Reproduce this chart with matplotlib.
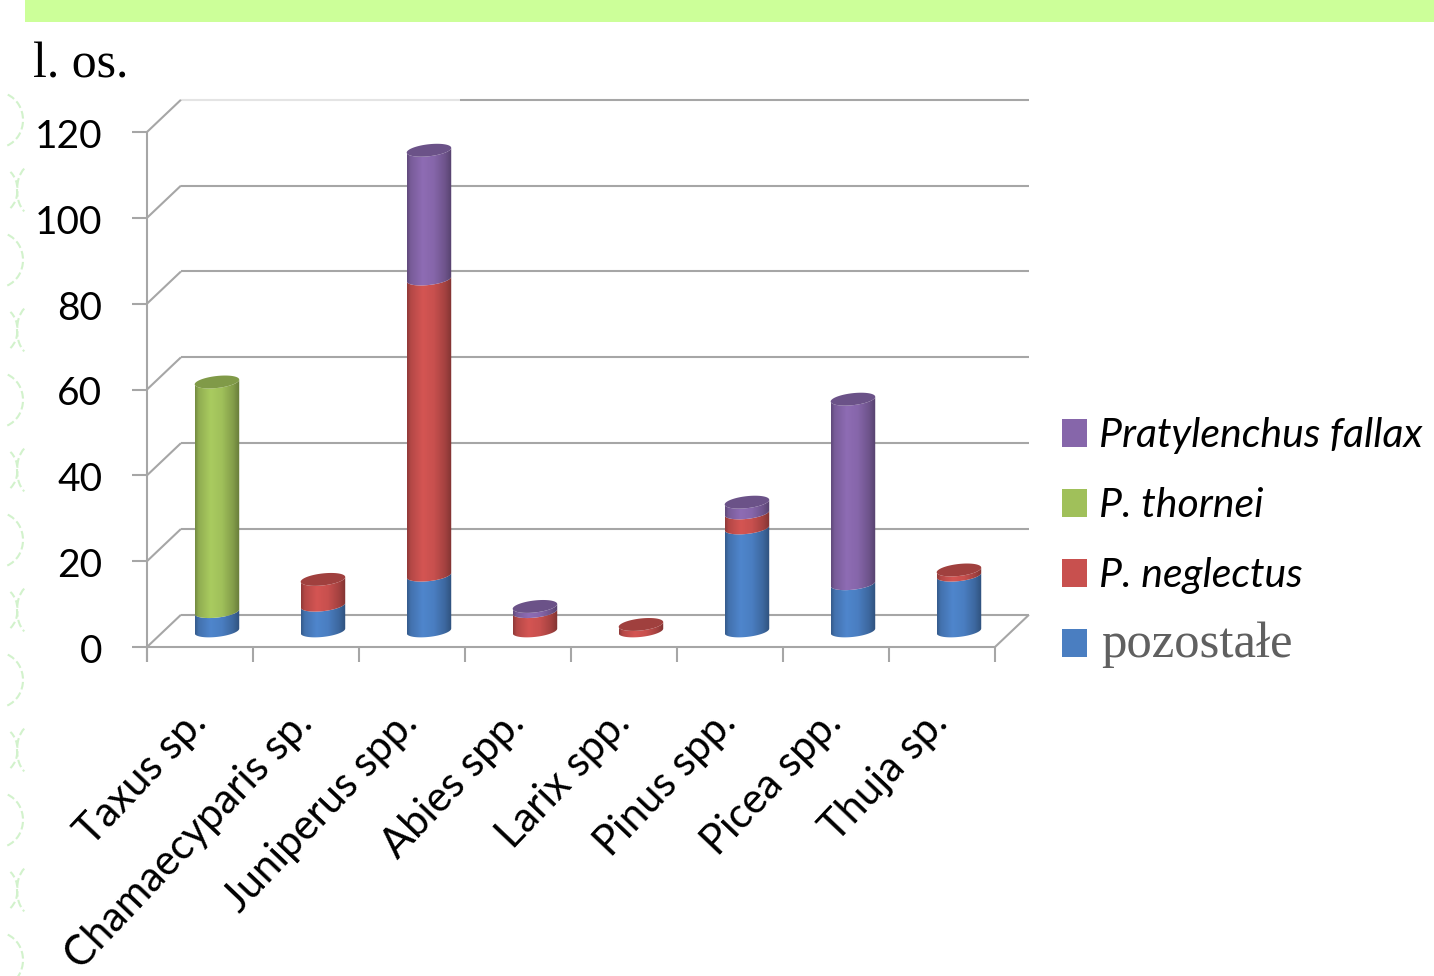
import numpy as np
import matplotlib.pyplot as plt
from matplotlib.patches import Polygon, Rectangle, Arc
from matplotlib.colors import to_rgb

categories = ['Taxus sp.', 'Chamaecyparis sp.', 'Juniperus spp.', 'Abies spp.',
              'Larix spp.', 'Pinus spp.', 'Picea spp.', 'Thuja sp.']
pozostale = [4.5, 6, 13, 0, 0, 24, 11, 13]
neglectus = [0, 6, 69, 4.5, 1.5, 3.5, 0, 1.2]
thornei = [53.5, 0, 0, 0, 0, 0, 0, 0]
fallax = [0, 0, 30, 1.2, 0, 2.5, 43, 0]
y_ticks = [0, 20, 40, 60, 80, 100, 120]

series = [
    ('pozostałe', pozostale, '#4A7EC1'),
    ('P. neglectus', neglectus, '#C8504E'),
    ('P. thornei', thornei, '#A0C05A'),
    ('Pratylenchus fallax', fallax, '#8666AA'),
]

W, H = 1434, 976
DX, DY = 0.32, 7.5          # depth offset of the back wall (category units, value units)
HALF_W, ELL_B, TILT = 0.21, 1.4, 0.55
GRID = '#A6A6A6'
SANS = 'Lato'

fig = plt.figure(figsize=(W / 100, H / 100), dpi=100)
fig.patch.set_facecolor('white')
ax = fig.add_axes([147 / W, 329 / H, 848 / W, 515 / H])
ax.axis('off')


def line(xs, ys, **kw):
    kw.setdefault('color', GRID)
    kw.setdefault('lw', 1.5)
    ax.plot(xs, ys, clip_on=False, solid_capstyle='butt', **kw)


# walls, floor and axis
for v in y_ticks:
    if v == 120:
        line([DX, 2.95], [v + DY, v + DY], color='#E4E4E4')
        line([2.95, 8 + DX], [v + DY, v + DY])
    else:
        line([DX, 8 + DX], [v + DY, v + DY])
    line([0, DX], [v, v + DY])
    line([-0.14, 0], [v, v])
    ax.text(-0.42, v - 3.7, str(v), ha='right', va='baseline', fontsize=28,
            family=SANS, color='black')
line([0, 0], [-3.5, 120])
line([0, 8], [0, 0])
line([8, 8 + DX], [0, DY])
for i in range(len(categories) + 1):
    line([i, i], [0, -3.5])


def shade(color):
    # light band left of centre, dark rims, like a lit cylinder
    s = np.linspace(0, 1, 96)
    f = np.interp(s, [0, 0.08, 0.35, 0.6, 0.85, 1], [0.72, 0.9, 1.06, 1.0, 0.82, 0.64])
    rgb = np.clip(np.outer(f, to_rgb(color)), 0, 1)
    return rgb[np.newaxis, :, :]


t_front = np.linspace(np.pi, 2 * np.pi, 60)
t_full = np.linspace(0, 2 * np.pi, 120)


def arc(cx, v, t):
    return np.column_stack([cx + HALF_W * np.cos(t),
                            v + ELL_B * np.sin(t) + TILT * np.cos(t)])


for i in range(len(categories)):
    cx = i + 0.5 + DX / 2
    base = DY / 2
    segs = [(vals[i], col) for _, vals, col in series if vals[i] > 0]
    for j, (h, col) in enumerate(segs):
        v0, v1 = base, base + h
        body = np.vstack([arc(cx, v0, t_front), arc(cx, v1, t_front[::-1])])
        clip = Polygon(body, closed=True, facecolor='none', edgecolor='none',
                       transform=ax.transData)
        ax.add_patch(clip)
        im = ax.imshow(shade(col), extent=[cx - HALF_W, cx + HALF_W, v0 - 3, v1 + 3],
                       aspect='auto', interpolation='bilinear', zorder=3)
        im.set_clip_path(clip)
        if j == len(segs) - 1:
            cap_col = np.array(to_rgb(col)) * 0.8
            ax.add_patch(Polygon(arc(cx, v1, t_full), closed=True, facecolor=cap_col,
                                 edgecolor='none', zorder=4, clip_on=False))
        base = v1
    ax.text(i + 0.575, -18.1, categories[i], rotation=46.5, rotation_mode='anchor',
            ha='right', va='baseline', fontsize=30, family=SANS)

ax.set_xlim(0, 8)
ax.set_ylim(0, 120)
ax.set_aspect('auto')

# legend
for k, (name, _, col) in enumerate(series[::-1]):
    yc = 432.5 + 70.3 * k
    fig.add_artist(Rectangle((1062 / W, 1 - (yc + 14) / H), 25 / W, 28 / H,
                             transform=fig.transFigure, facecolor=col, edgecolor='none'))
    if name == 'pozostałe':
        fig.text(1101 / W, 1 - 657 / H, name, ha='left', va='baseline',
                 fontsize=36.5, family='Liberation Serif', color='#606060')
    else:
        fig.text(1099 / W, 1 - (yc + 14) / H, name, ha='left', va='baseline',
                 fontsize=29.5, family=SANS, style='italic', color='black')

# heading strip and label
fig.add_artist(Rectangle((25 / W, 1 - 22 / H), 1 - 25 / W, 22 / H,
                         transform=fig.transFigure, facecolor='#CCFF99', edgecolor='none'))
fig.text(33 / W, 1 - 77 / H, 'l. os.', ha='left', va='baseline', fontsize=36,
         family='Liberation Serif', color='black')

# faint ornament along the left edge
for k in range(13):
    yc = (H - 120 - 70 * k) / 100
    if k % 2 == 0:
        fig.add_artist(Arc((-0.02, yc), 0.5, 0.55, theta1=-70, theta2=70,
                           transform=fig.dpi_scale_trans, color='#D2F2CC', lw=1.5, ls='--'))
    else:
        fig.add_artist(Arc((0.32, yc), 0.3, 0.5, theta1=110, theta2=250,
                           transform=fig.dpi_scale_trans, color='#D2F2CC', lw=1.5, ls='--'))
        fig.add_artist(Arc((0.0, yc), 0.35, 0.45, theta1=-60, theta2=60,
                           transform=fig.dpi_scale_trans, color='#D2F2CC', lw=1.5, ls='--'))

fig.savefig('out.png', dpi=100)
